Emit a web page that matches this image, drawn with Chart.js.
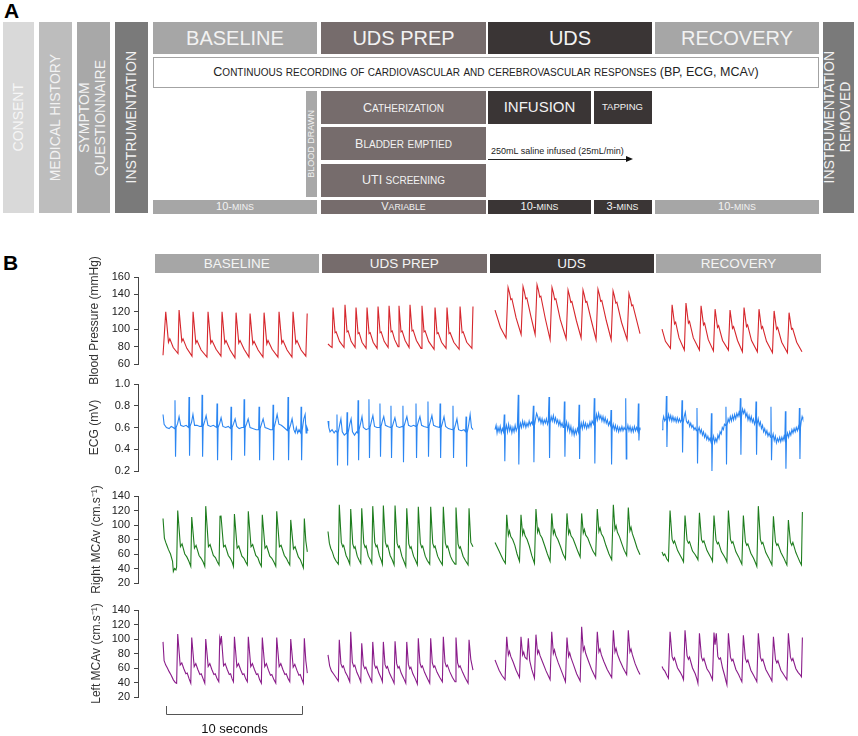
<!DOCTYPE html>
<html><head><meta charset="utf-8">
<script src="https://cdn.jsdelivr.net/npm/chart.js@4.4.1/dist/chart.umd.min.js"></script>
<style>
body{margin:0;background:#fff;}
#fig{position:relative;width:858px;height:736px;font-family:"Liberation Sans",Arial,Helvetica,sans-serif;overflow:hidden;background:#fff;}
.b{position:absolute;display:flex;align-items:center;justify-content:center;color:#f2f2f2;box-sizing:border-box;text-align:center;line-height:1.12;white-space:nowrap;}
.v{writing-mode:vertical-rl;transform:rotate(180deg);}
.s{font-size:0.8em;text-transform:uppercase;}
.lbl{position:absolute;font-weight:bold;font-size:21px;color:#000;}
canvas{position:absolute;left:60px;}
</style></head>
<body>
<div id="fig">
  <div class="lbl" style="left:4px;top:-1px;">A</div>
  <div class="b" style="left:3px;top:22px;width:31px;height:191px;background:#d9d9d9;font-size:14px;color:#f6f6f6;"><span class="v">CONSENT</span></div>
  <div class="b" style="left:39px;top:22px;width:33px;height:191px;background:#bdbdbd;font-size:14px;"><span class="v">MEDICAL HISTORY</span></div>
  <div class="b" style="left:76.5px;top:22px;width:33px;height:191px;background:#a8a8a8;font-size:14px;"><span class="v">SYMPTOM<br>QUESTIONNAIRE</span></div>
  <div class="b" style="left:115px;top:22px;width:33px;height:191px;background:#7a7a7a;font-size:14px;"><span class="v">INSTRUMENTATION</span></div>

  <div class="b" style="left:153px;top:22px;width:164px;height:32px;background:#a6a6a6;font-size:20px;">BASELINE</div>
  <div class="b" style="left:321px;top:22px;width:165px;height:32px;background:#766c6c;font-size:20px;">UDS PREP</div>
  <div class="b" style="left:488px;top:22px;width:164px;height:32px;background:#3a3535;font-size:20px;">UDS</div>
  <div class="b" style="left:655px;top:22px;width:164px;height:32px;background:#a6a6a6;font-size:20px;">RECOVERY</div>
  <div class="b" style="left:822.5px;top:22px;width:31px;height:191px;background:#7a7a7a;font-size:14px;"><span class="v">INSTRUMENTATION<br>REMOVED</span></div>

  <div class="b sc" style="left:153px;top:57px;width:666px;height:30.5px;background:#fff;border:1px solid #a3a3a3;font-size:12.5px;color:#222;">Continuous recording of cardiovascular and cerebrovascular responses (BP, ECG, MCAv)</div>

  <div class="b" style="left:306px;top:91px;width:11px;height:106px;background:#a8a8a8;font-size:9px;"><span class="v">BLOOD DRAWN</span></div>
  <div class="b sc" style="left:321px;top:91px;width:165px;height:33px;background:#766c6c;font-size:12.5px;">Catherization</div>
  <div class="b sc" style="left:321px;top:127px;width:165px;height:33px;background:#766c6c;font-size:12.5px;">Bladder emptied</div>
  <div class="b sc" style="left:321px;top:163.5px;width:165px;height:33px;background:#766c6c;font-size:12.5px;">UTI screening</div>
  <div class="b" style="left:488px;top:91px;width:103px;height:33px;background:#3a3535;font-size:15px;">INFUSION</div>
  <div class="b" style="left:593.5px;top:91px;width:58px;height:33px;background:#3a3535;font-size:9.5px;">TAPPING</div>

  <div style="position:absolute;left:491px;top:146px;font-size:9px;color:#222;white-space:nowrap;">250mL saline infused (25mL/min)</div>
  <div style="position:absolute;left:488px;top:159px;width:139px;height:1px;background:#222;"></div>
  <div style="position:absolute;left:626px;top:156px;width:0;height:0;border-left:7px solid #111;border-top:3.5px solid transparent;border-bottom:3.5px solid transparent;"></div>

  <div class="b sc" style="left:153px;top:200px;width:164px;height:13.5px;background:#a6a6a6;font-size:11px;">10-mins</div>
  <div class="b sc" style="left:321px;top:200px;width:165px;height:13.5px;background:#766c6c;font-size:11px;">Variable</div>
  <div class="b sc" style="left:488px;top:200px;width:103px;height:13.5px;background:#3a3535;font-size:11px;">10-mins</div>
  <div class="b sc" style="left:593.5px;top:200px;width:58px;height:13.5px;background:#3a3535;font-size:11px;">3-mins</div>
  <div class="b sc" style="left:655px;top:200px;width:164px;height:13.5px;background:#a6a6a6;font-size:11px;">10-mins</div>

  <div class="lbl" style="left:3px;top:251px;">B</div>
  <div id="hdrs"></div>

  <canvas id="c0" width="770" height="147" style="top:247px;"></canvas>
  <canvas id="c1" width="770" height="147" style="top:354px;"></canvas>
  <canvas id="c2" width="770" height="147" style="top:466px;"></canvas>
  <canvas id="c3" width="770" height="156" style="top:580px;"></canvas>
</div>
<script>
// ---- data (seconds within each 10.7 s window, values in units of each axis) ----
const phases = ['BASELINE', 'UDS PREP', 'UDS', 'RECOVERY'];
const segmentStarts = [1.84, 13.97, 26.25, 38.53];
const xMaxSeconds = 50.88;
const scaleBarSeconds = [2.06, 12.06];

const bpBaseline = [0,70, 0.2,120, 0.4,85, 0.5,89, 0.75,79, 1.1,72,
 1.18,122, 1.38,86, 1.47,89, 1.75,78, 2.13,69,
 2.21,120, 2.41,84, 2.5,87, 2.8,76, 3.23,68,
 3.31,120, 3.51,84, 3.6,87, 3.9,77, 4.26,69,
 4.34,120, 4.54,84, 4.63,87, 4.93,76, 5.29,67,
 5.37,119, 5.57,84, 5.66,87, 5.96,77, 6.32,68,
 6.40,118, 6.6,83, 6.69,86, 6.99,76, 7.35,68,
 7.43,119, 7.63,83, 7.72,87, 8.02,77, 8.45,68,
 8.53,120, 8.73,84, 8.82,87, 9.12,76, 9.48,68,
 9.56,120, 9.76,84, 9.85,87, 10.15,76, 10.5,69,
 10.6,118];
const bpPrep = [0,83, 0.2,80, 0.3,79,
 0.37,125, 0.52,96, 0.6,97, 0.85,86, 1.18,79,
 1.25,128, 1.4,97, 1.48,98, 1.7,86, 1.99,79,
 2.06,125, 2.21,95, 2.29,96, 2.5,85, 2.8,78,
 2.87,125, 3.02,95, 3.1,96, 3.32,85, 3.61,78,
 3.68,126, 3.83,96, 3.91,97, 4.13,86, 4.42,79,
 4.49,127, 4.64,97, 4.72,98, 4.9,88, 5.15,80,
 5.22,127, 5.37,97, 5.45,98, 5.67,87, 5.96,79,
 6.03,128, 6.18,98, 6.26,99, 6.5,87, 6.84,78,
 6.91,127, 7.06,97, 7.14,98, 7.4,86, 7.8,77,
 7.87,125, 8.02,95, 8.1,96, 8.35,85, 8.68,78,
 8.75,125, 8.9,95, 8.98,96, 9.25,85, 9.64,77,
 9.71,126, 9.86,96, 9.94,97, 10.2,85, 10.58,78,
 10.66,126];
const bpUds = [0,122, 0.4,102, 0.81,90,
 0.96,148, 1.06,142, 1.16,134, 1.24,135, 1.55,113, 1.92,94,
 2.06,149, 2.16,143, 2.26,135, 2.34,136, 2.65,114, 2.95,94,
 3.09,151, 3.19,145, 3.29,137, 3.37,138, 3.7,112, 4.05,88,
 4.19,148, 4.29,142, 4.39,134, 4.47,135, 4.8,111, 5.23,89,
 5.37,145, 5.47,139, 5.57,131, 5.65,132, 5.98,110, 6.33,90,
 6.47,145, 6.57,139, 6.67,131, 6.75,132, 7.08,110, 7.43,88,
 7.57,146, 7.67,140, 7.77,132, 7.85,133, 8.18,110, 8.54,88,
 8.68,144, 8.78,138, 8.88,130, 8.96,131, 9.3,108, 9.71,88,
 9.85,141, 9.95,135, 10.05,127, 10.13,128, 10.66,95];
const bpRecovery = [0,100, 0.25,86, 0.62,78,
 0.74,128, 0.92,106, 1.0,108, 1.25,90, 1.64,76,
 1.76,130, 1.94,107, 2.02,109, 2.3,90, 2.75,76,
 2.87,127, 3.05,105, 3.13,107, 3.4,88, 3.78,75,
 3.90,123, 4.08,102, 4.16,104, 4.45,87, 4.88,76,
 5.0,122, 5.18,101, 5.26,103, 5.55,87, 5.91,74,
 6.03,125, 6.21,103, 6.29,105, 6.58,87, 7.01,74,
 7.13,123, 7.31,101, 7.39,103, 7.68,86, 8.12,73,
 8.24,121, 8.42,100, 8.5,102, 8.8,85, 9.22,73,
 9.34,119, 9.52,100, 9.6,101, 9.9,85, 10.29,74];

const ecgBaseline = [0,0.72, 0.08,0.63, 0.25,0.60, 0.45,0.59, 0.6,0.61, 0.75,0.60, 0.85,0.59,
 0.88,0.85, 0.92,0.33, 0.96,0.6, 1.08,0.64, 1.18,0.70, 1.3,0.62, 1.5,0.61, 1.7,0.62, 1.88,0.60,
 1.91,0.88, 1.95,0.34, 1.99,0.61, 2.1,0.65, 2.2,0.72, 2.32,0.62, 2.5,0.62, 2.7,0.61, 2.84,0.61,
 2.87,0.90, 2.91,0.33, 2.95,0.61, 3.07,0.66, 3.17,0.71, 3.3,0.62, 3.5,0.61, 3.7,0.62, 3.94,0.60,
 3.97,0.82, 4.01,0.30, 4.05,0.60, 4.17,0.64, 4.27,0.69, 4.4,0.61, 4.6,0.60, 4.8,0.61, 4.97,0.59,
 5.0,0.79, 5.04,0.30, 5.08,0.60, 5.2,0.64, 5.3,0.68, 5.42,0.61, 5.6,0.59, 5.8,0.60, 5.93,0.60,
 5.96,0.86, 6.0,0.34, 6.04,0.60, 6.16,0.64, 6.26,0.68, 6.4,0.60, 6.6,0.59, 6.85,0.58, 7.03,0.58,
 7.06,0.79, 7.1,0.30, 7.14,0.59, 7.26,0.64, 7.36,0.68, 7.5,0.60, 7.7,0.59, 7.9,0.58, 8.06,0.58,
 8.09,0.81, 8.13,0.30, 8.17,0.60, 8.29,0.66, 8.39,0.72, 8.52,0.63, 8.7,0.62, 8.9,0.60, 9.16,0.57,
 9.19,0.88, 9.23,0.30, 9.27,0.58, 9.39,0.63, 9.49,0.68, 9.62,0.58, 9.72,0.55, 9.8,0.60, 9.9,0.55, 10.0,0.58, 10.12,0.55,
 10.15,0.79, 10.19,0.30, 10.23,0.57, 10.35,0.68, 10.45,0.72, 10.52,0.55, 10.58,0.60, 10.66,0.57];
const ecgPrep = [0,0.66, 0.06,0.60, 0.15,0.56, 0.3,0.58, 0.45,0.55, 0.55,0.57, 0.63,0.56,
 0.66,0.72, 0.70,0.25, 0.74,0.55, 0.85,0.62, 0.95,0.68, 1.05,0.56, 1.2,0.53, 1.37,0.55,
 1.40,0.74, 1.44,0.25, 1.48,0.55, 1.6,0.63, 1.7,0.68, 1.8,0.56, 1.95,0.53, 2.1,0.56, 2.18,0.55,
 2.21,0.85, 2.25,0.30, 2.29,0.58, 2.4,0.64, 2.5,0.70, 2.6,0.60, 2.8,0.58, 2.98,0.59,
 3.01,0.86, 3.05,0.32, 3.09,0.60, 3.2,0.66, 3.3,0.71, 3.42,0.61, 3.6,0.60, 3.79,0.60,
 3.82,0.82, 3.86,0.33, 3.9,0.61, 4.0,0.66, 4.1,0.70, 4.22,0.62, 4.4,0.61, 4.6,0.60,
 4.63,0.80, 4.67,0.32, 4.71,0.60, 4.82,0.65, 4.92,0.69, 5.05,0.61, 5.25,0.60, 5.48,0.61,
 5.51,0.80, 5.55,0.28, 5.59,0.61, 5.7,0.66, 5.8,0.70, 5.92,0.62, 6.1,0.61, 6.3,0.62, 6.44,0.61,
 6.47,0.82, 6.51,0.32, 6.55,0.61, 6.66,0.66, 6.76,0.70, 6.88,0.62, 7.05,0.61, 7.32,0.60,
 7.35,0.84, 7.39,0.33, 7.43,0.61, 7.54,0.66, 7.64,0.71, 7.76,0.62, 7.95,0.61, 8.21,0.60,
 8.24,0.82, 8.28,0.32, 8.32,0.60, 8.43,0.65, 8.53,0.70, 8.65,0.61, 8.85,0.59, 9.16,0.58,
 9.19,0.80, 9.23,0.32, 9.27,0.58, 9.38,0.63, 9.48,0.68, 9.6,0.58, 9.8,0.57, 10.0,0.58, 10.12,0.56,
 10.15,0.70, 10.19,0.24, 10.23,0.55, 10.35,0.63, 10.45,0.72, 10.55,0.60, 10.66,0.58];
const ecgUds = [0,0.58, 0.08,0.62, 0.15,0.55, 0.22,0.60, 0.3,0.56, 0.38,0.61, 0.46,0.55, 0.54,0.59, 0.62,0.56,
 0.68,0.72, 0.72,0.29, 0.76,0.57, 0.84,0.62, 0.92,0.56, 1.0,0.63, 1.08,0.57, 1.16,0.61, 1.24,0.55, 1.32,0.60, 1.4,0.56, 1.48,0.62, 1.56,0.57, 1.64,0.60,
 1.71,0.90, 1.75,0.26, 1.79,0.58, 1.87,0.64, 1.95,0.60, 2.03,0.66, 2.11,0.61, 2.19,0.65, 2.27,0.60, 2.35,0.64, 2.43,0.61, 2.51,0.66, 2.59,0.62, 2.67,0.65, 2.76,0.63,
 2.82,0.80, 2.86,0.28, 2.9,0.62, 2.98,0.68, 3.06,0.73, 3.14,0.70, 3.22,0.66, 3.3,0.69, 3.38,0.64, 3.46,0.68, 3.54,0.63, 3.62,0.67, 3.7,0.64, 3.78,0.68, 3.86,0.63, 3.92,0.66,
 3.97,0.88, 4.01,0.32, 4.05,0.64, 4.13,0.70, 4.21,0.66, 4.29,0.71, 4.37,0.65, 4.45,0.69, 4.53,0.64, 4.61,0.67, 4.69,0.62, 4.77,0.66, 4.85,0.61, 4.93,0.64, 5.01,0.60, 5.06,0.62,
 5.10,0.84, 5.14,0.33, 5.18,0.60, 5.26,0.65, 5.34,0.58, 5.42,0.63, 5.5,0.56, 5.58,0.61, 5.66,0.54, 5.74,0.59, 5.82,0.53, 5.9,0.58, 5.98,0.54, 6.06,0.59, 6.13,0.56,
 6.18,0.81, 6.22,0.31, 6.26,0.58, 6.34,0.64, 6.42,0.59, 6.5,0.65, 6.58,0.60, 6.66,0.64, 6.74,0.59, 6.82,0.63, 6.9,0.60, 6.98,0.65, 7.06,0.61, 7.14,0.66, 7.25,0.63,
 7.30,0.87, 7.34,0.27, 7.38,0.64, 7.46,0.72, 7.54,0.67, 7.62,0.73, 7.7,0.68, 7.78,0.71, 7.86,0.66, 7.94,0.70, 8.02,0.65, 8.1,0.69, 8.18,0.64, 8.26,0.67, 8.34,0.62, 8.42,0.65, 8.49,0.62,
 8.53,0.76, 8.57,0.26, 8.61,0.58, 8.69,0.63, 8.77,0.58, 8.85,0.62, 8.93,0.57, 9.01,0.61, 9.09,0.56, 9.17,0.60, 9.25,0.57, 9.33,0.61, 9.41,0.57, 9.49,0.60, 9.57,0.58,
 9.61,0.87, 9.65,0.31, 9.69,0.57, 9.77,0.62, 9.85,0.57, 9.93,0.61, 10.01,0.56, 10.09,0.60, 10.17,0.56, 10.25,0.61, 10.33,0.57, 10.41,0.60, 10.49,0.57,
 10.54,0.82, 10.58,0.48, 10.62,0.58, 10.66,0.60];
const ecgRecovery = [0,0.58, 0.06,0.66, 0.12,0.70, 0.2,0.66, 0.28,0.68,
 0.32,0.89, 0.36,0.42, 0.4,0.66, 0.48,0.72, 0.56,0.67, 0.64,0.71, 0.72,0.66, 0.8,0.70, 0.88,0.66, 0.96,0.69, 1.04,0.65, 1.12,0.69, 1.2,0.65, 1.28,0.68, 1.36,0.65, 1.43,0.67,
 1.47,0.85, 1.51,0.37, 1.55,0.64, 1.63,0.70, 1.71,0.74, 1.79,0.66, 1.87,0.64, 1.95,0.66, 2.03,0.61, 2.11,0.64, 2.19,0.60, 2.27,0.62, 2.35,0.58, 2.43,0.60, 2.52,0.57,
 2.57,0.78, 2.61,0.27, 2.65,0.57, 2.73,0.60, 2.81,0.55, 2.89,0.58, 2.97,0.53, 3.05,0.56, 3.13,0.51, 3.21,0.54, 3.29,0.49, 3.37,0.52, 3.45,0.48, 3.52,0.50, 3.59,0.47,
 3.63,0.73, 3.67,0.20, 3.71,0.47, 3.79,0.52, 3.87,0.46, 3.95,0.50, 4.03,0.47, 4.11,0.53, 4.19,0.50, 4.27,0.56, 4.35,0.54, 4.43,0.60, 4.51,0.58, 4.59,0.63, 4.66,0.62,
 4.70,0.79, 4.74,0.26, 4.78,0.62, 4.86,0.68, 4.94,0.65, 5.02,0.70, 5.1,0.66, 5.18,0.71, 5.26,0.67, 5.34,0.72, 5.42,0.68, 5.5,0.73, 5.58,0.70, 5.66,0.74, 5.72,0.71,
 5.76,0.87, 5.8,0.35, 5.84,0.70, 5.92,0.77, 6.0,0.73, 6.08,0.76, 6.16,0.70, 6.24,0.73, 6.32,0.67, 6.4,0.71, 6.48,0.66, 6.56,0.70, 6.64,0.65, 6.72,0.68, 6.8,0.63, 6.87,0.66,
 6.91,0.84, 6.95,0.35, 6.99,0.63, 7.07,0.68, 7.15,0.62, 7.23,0.65, 7.31,0.59, 7.39,0.62, 7.47,0.56, 7.55,0.59, 7.63,0.54, 7.71,0.57, 7.79,0.52, 7.87,0.55, 7.97,0.51,
 8.01,0.79, 8.05,0.30, 8.09,0.50, 8.17,0.54, 8.25,0.48, 8.33,0.52, 8.41,0.46, 8.49,0.50, 8.57,0.47, 8.65,0.51, 8.73,0.47, 8.81,0.51, 8.89,0.48, 8.97,0.52, 9.03,0.49,
 9.07,0.75, 9.11,0.22, 9.15,0.50, 9.23,0.55, 9.31,0.51, 9.39,0.56, 9.47,0.53, 9.55,0.58, 9.63,0.55, 9.71,0.59, 9.79,0.56, 9.87,0.60, 9.95,0.57, 10.03,0.61, 10.07,0.59,
 10.10,0.78, 10.14,0.31, 10.18,0.60, 10.24,0.66, 10.3,0.70, 10.35,0.68];

const rmcaBaseline = [0,109, 0.1,82, 0.2,76, 0.28,72, 0.4,66, 0.55,60, 0.7,50, 0.76,36, 0.85,40, 0.95,38, 1.0,42,
 1.08,120, 1.28,70, 1.4,74, 1.6,60, 1.75,56, 1.9,50, 2.04,43,
 2.11,111, 2.31,68, 2.43,72, 2.65,58, 2.8,54, 2.95,49, 3.07,43,
 3.14,126, 3.34,70, 3.46,73, 3.7,58, 3.85,55, 4.0,49, 4.12,45,
 4.19,112, 4.26,113, 4.45,70, 4.57,72, 4.8,58, 4.95,54, 5.08,49, 5.18,43,
 5.25,115, 5.45,68, 5.57,71, 5.8,57, 5.95,54, 6.08,49, 6.2,45,
 6.27,119, 6.47,70, 6.59,73, 6.82,58, 6.97,55, 7.1,48, 7.23,43,
 7.30,114, 7.5,68, 7.62,71, 7.85,57, 8.0,54, 8.15,49, 8.29,43,
 8.36,119, 8.56,70, 8.68,72, 8.92,58, 9.07,54, 9.2,49, 9.32,45,
 9.39,107, 9.59,67, 9.71,70, 9.95,56, 10.1,52, 10.22,46, 10.32,41,
 10.39,109, 10.5,78, 10.61,63];
const rmcaPrep = [0,91, 0.1,75, 0.2,68, 0.32,63, 0.45,55, 0.6,50, 0.76,46,
 0.83,128, 0.98,76, 1.08,70, 1.15,72, 1.33,58, 1.48,52, 1.6,46,
 1.67,122, 1.82,74, 1.92,68, 1.99,70, 2.15,57, 2.3,51, 2.41,47,
 2.48,123, 2.63,75, 2.73,69, 2.8,71, 2.96,57, 3.11,52, 3.22,47,
 3.29,126, 3.44,76, 3.54,70, 3.61,72, 3.77,58, 3.92,51, 4.0,46,
 4.07,127, 4.22,76, 4.32,70, 4.39,72, 4.57,58, 4.72,52, 4.86,45,
 4.93,127, 5.08,75, 5.18,69, 5.25,71, 5.43,57, 5.58,50, 5.72,43,
 5.79,123, 5.94,74, 6.04,68, 6.11,70, 6.29,57, 6.44,51, 6.57,45,
 6.64,125, 6.79,75, 6.89,69, 6.96,71, 7.15,57, 7.3,51, 7.48,46,
 7.55,125, 7.7,75, 7.8,69, 7.87,71, 8.06,57, 8.22,51, 8.41,45,
 8.48,125, 8.63,75, 8.73,69, 8.8,71, 9.0,57, 9.15,51, 9.34,46,
 9.41,124, 9.56,74, 9.66,68, 9.73,70, 9.93,57, 10.1,51, 10.3,45,
 10.37,123, 10.5,76, 10.66,70];
const rmcaUds = [0,76, 0.15,70, 0.3,64, 0.45,58, 0.6,52, 0.76,47,
 0.86,114, 0.98,86, 1.06,92, 1.16,84, 1.3,80, 1.46,72, 1.62,60, 1.8,50,
 1.91,114, 2.03,87, 2.11,93, 2.21,85, 2.36,80, 2.52,71, 2.7,58, 2.9,47,
 3.01,122, 3.13,90, 3.21,95, 3.31,87, 3.46,82, 3.64,72, 3.85,60, 4.05,50,
 4.17,116, 4.29,88, 4.37,93, 4.47,85, 4.62,80, 4.8,71, 5.0,60, 5.18,53,
 5.29,116, 5.41,88, 5.49,93, 5.59,85, 5.74,81, 5.92,72, 6.1,63, 6.26,56,
 6.37,116, 6.49,89, 6.57,94, 6.67,86, 6.82,82, 7.0,73, 7.2,64, 7.4,58,
 7.52,122, 7.64,91, 7.72,96, 7.82,88, 7.97,83, 8.15,72, 8.38,60, 8.58,52,
 8.70,128, 8.82,94, 8.9,99, 9.0,90, 9.15,84, 9.33,74, 9.5,65, 9.68,58,
 9.80,124, 9.92,92, 10.0,97, 10.1,88, 10.25,80, 10.45,68, 10.66,59];
const rmcaRecovery = [0,63, 0.1,58, 0.2,60, 0.35,53, 0.47,50,
 0.59,120, 0.74,80, 0.84,75, 0.92,78, 1.14,65, 1.34,58, 1.48,53, 1.58,49,
 1.69,113, 1.84,79, 1.94,75, 2.02,77, 2.24,64, 2.44,59, 2.56,55, 2.64,52,
 2.75,117, 2.9,80, 3.0,76, 3.08,78, 3.3,65, 3.5,58, 3.62,54, 3.71,50,
 3.82,113, 3.97,79, 4.07,74, 4.15,76, 4.37,63, 4.57,57, 4.68,53, 4.77,49,
 4.88,120, 5.03,80, 5.13,75, 5.21,77, 5.43,63, 5.63,56, 5.77,50, 5.87,46,
 5.98,113, 6.13,77, 6.23,72, 6.31,74, 6.53,61, 6.73,54, 6.87,48, 6.97,43,
 7.08,126, 7.23,80, 7.33,74, 7.41,76, 7.63,62, 7.83,55, 7.98,49, 8.08,45,
 8.19,112, 8.34,77, 8.44,72, 8.52,74, 8.74,62, 8.94,55, 9.08,49, 9.18,45,
 9.29,107, 9.44,76, 9.54,72, 9.62,76, 9.84,62, 10.0,55, 10.14,49, 10.25,45,
 10.32,118];

const lmcaBaseline = [0,96, 0.08,70, 0.2,64, 0.32,60, 0.45,55, 0.6,50, 0.75,44, 0.9,40, 1.0,39,
 1.08,107, 1.26,64, 1.38,67, 1.53,59, 1.68,52, 1.78,53, 1.92,45, 2.04,39,
 2.11,102, 2.29,62, 2.41,66, 2.56,58, 2.71,51, 2.81,52, 2.95,45, 3.07,39,
 3.14,100, 3.32,62, 3.44,66, 3.59,58, 3.74,51, 3.84,52, 3.98,45, 4.1,41,
 4.17,101, 4.23,95, 4.29,104, 4.45,63, 4.57,66, 4.72,58, 4.87,51, 4.97,52, 5.08,45, 5.18,41,
 5.25,103, 5.43,62, 5.55,66, 5.7,58, 5.85,51, 5.95,52, 6.08,45, 6.2,41,
 6.27,103, 6.45,62, 6.57,66, 6.72,58, 6.87,51, 6.97,52, 7.1,44, 7.23,39,
 7.30,102, 7.48,62, 7.6,66, 7.75,57, 7.9,50, 8.0,51, 8.15,44, 8.29,39,
 8.36,102, 8.54,62, 8.66,66, 8.81,58, 8.96,51, 9.06,52, 9.2,45, 9.32,41,
 9.39,100, 9.57,61, 9.69,65, 9.84,57, 9.99,50, 10.09,51, 10.22,44, 10.32,39,
 10.39,101, 10.5,70, 10.61,53];
const lmcaPrep = [0,78, 0.12,63, 0.25,56, 0.4,52, 0.55,48, 0.76,42,
 0.83,99, 0.95,66, 1.05,61, 1.13,63, 1.28,54, 1.43,49, 1.6,41,
 1.67,110, 1.79,68, 1.89,62, 1.97,64, 2.12,54, 2.27,48, 2.41,41,
 2.48,94, 2.6,64, 2.7,59, 2.78,61, 2.93,53, 3.08,47, 3.22,41,
 3.29,96, 3.41,65, 3.51,60, 3.59,62, 3.74,53, 3.89,47, 4.0,41,
 4.07,96, 4.19,65, 4.29,60, 4.37,62, 4.52,53, 4.7,46, 4.86,39,
 4.93,97, 5.05,66, 5.15,60, 5.23,62, 5.38,53, 5.56,46, 5.72,39,
 5.79,96, 5.91,65, 6.01,59, 6.09,61, 6.24,52, 6.42,45, 6.57,38,
 6.64,101, 6.76,67, 6.86,61, 6.94,63, 7.1,54, 7.3,46, 7.48,39,
 7.55,101, 7.67,67, 7.77,61, 7.85,63, 8.02,54, 8.22,47, 8.41,41,
 8.48,103, 8.6,68, 8.7,62, 8.78,64, 8.95,55, 9.15,47, 9.34,41,
 9.41,102, 9.53,67, 9.63,61, 9.71,63, 9.9,54, 10.1,46, 10.3,39,
 10.37,99, 10.5,72, 10.66,57];
const lmcaUds = [0,71, 0.15,64, 0.3,57, 0.5,50, 0.74,44,
 0.86,103, 0.98,78, 1.06,83, 1.16,76, 1.34,68, 1.55,57, 1.8,47,
 1.91,103, 2.03,78, 2.11,82, 2.2,75, 2.35,72, 2.45,101, 2.55,70, 2.7,58, 2.9,46,
 3.01,106, 3.13,80, 3.21,84, 3.31,77, 3.5,68, 3.75,56, 4.05,44,
 4.17,110, 4.29,80, 4.37,85, 4.47,77, 4.65,67, 4.9,55, 5.18,41,
 5.29,102, 5.41,76, 5.49,81, 5.59,74, 5.78,64, 6.0,52, 6.26,42,
 6.37,117, 6.49,84, 6.57,89, 6.67,80, 6.86,70, 7.1,58, 7.4,46,
 7.52,110, 7.64,82, 7.72,86, 7.82,78, 8.0,69, 8.25,58, 8.58,47,
 8.70,112, 8.82,82, 8.9,87, 9.0,79, 9.18,70, 9.42,60, 9.68,51,
 9.80,112, 9.92,82, 10.0,86, 10.1,78, 10.3,66, 10.5,57, 10.66,51];
const lmcaRecovery = [0,62, 0.1,58, 0.2,56, 0.35,50, 0.47,46,
 0.59,110, 0.74,76, 0.84,71, 0.92,74, 1.14,60, 1.34,54, 1.48,49, 1.58,44,
 1.69,112, 1.84,77, 1.94,72, 2.02,75, 2.24,60, 2.44,52, 2.56,45, 2.64,39,
 2.75,108, 2.9,75, 3.0,70, 3.08,73, 3.3,59, 3.5,53, 3.62,48, 3.71,44,
 3.82,109, 3.9,92, 3.99,108, 4.1,76, 4.2,72, 4.3,74, 4.45,60, 4.6,50, 4.7,42, 4.77,37,
 4.88,108, 5.03,75, 5.13,70, 5.21,72, 5.43,58, 5.63,51, 5.77,45, 5.87,41,
 5.98,105, 6.13,73, 6.23,68, 6.31,71, 6.53,57, 6.73,50, 6.87,45, 6.97,41,
 7.08,108, 7.23,75, 7.33,70, 7.41,72, 7.63,58, 7.83,51, 7.98,46, 8.08,42,
 8.19,103, 8.34,72, 8.44,67, 8.52,70, 8.74,57, 8.94,51, 9.08,47, 9.18,44,
 9.29,108, 9.44,75, 9.54,70, 9.62,73, 9.84,59, 10.0,54, 10.14,51, 10.25,48,
 10.32,102];

const bpTicks = [60, 160, 20];
const ecgTicks = [0.2, 1.0, 0.2];
const mcaTicks = [20, 140, 20];

// ---- rendering ----
const FONT = '"Liberation Sans", Arial, Helvetica, sans-serif';
Chart.defaults.font.family = FONT;

// small capitals: lowercase runs shown as reduced capitals, wrapped in one inline box
document.querySelectorAll('.sc').forEach(el => {
  el.innerHTML = '<span>' + el.textContent.replace(/([a-z]+)/g, '<span class="s">$1</span>') + '</span>';
});

const hdrColors = ['#a6a6a6', '#766c6c', '#3a3535', '#a6a6a6'];
const hdrBoxes = [[155, 163.5], [322, 164.5], [489.5, 164], [656, 165]];
const hdrs = document.getElementById('hdrs');
phases.forEach((p, i) => {
  const d = document.createElement('div');
  d.className = 'b';
  d.style.cssText = `left:${hdrBoxes[i][0]}px;top:254px;width:${hdrBoxes[i][1]}px;height:18.5px;background:${hdrColors[i]};font-size:13.5px;color:#f4f4f4;`;
  d.textContent = p;
  hdrs.appendChild(d);
});

function toPoints(arr, seg) {
  const pts = [];
  for (let k = 0; k < arr.length; k += 2) pts.push({x: segmentStarts[seg] + arr[k], y: arr[k + 1]});
  return pts;
}

const scaleBarPlugin = {
  id: 'scaleBar',
  afterDraw(chart) {
    if (!chart.options.plugins.scaleBar || !chart.options.plugins.scaleBar.show) return;
    const {ctx, chartArea, scales: {x}} = chart;
    const x0 = Math.round(x.getPixelForValue(scaleBarSeconds[0])) + 0.5;
    const x1 = Math.round(x.getPixelForValue(scaleBarSeconds[1])) + 0.5;
    const y0 = chartArea.bottom + 9, y1 = Math.round(chartArea.bottom + 17) + 0.5;
    ctx.save();
    ctx.strokeStyle = '#555'; ctx.lineWidth = 1;
    ctx.beginPath();
    ctx.moveTo(x0, y0); ctx.lineTo(x0, y1); ctx.lineTo(x1, y1); ctx.lineTo(x1, y0);
    ctx.stroke();
    ctx.fillStyle = '#111';
    ctx.font = '13px ' + FONT;
    ctx.textAlign = 'center'; ctx.textBaseline = 'middle';
    ctx.fillText('10 seconds', (x0 + x1) / 2, chartArea.bottom + 32);
    ctx.restore();
  }
};

function makeChart(id, segs, color, ticks, title, titlePad, bottomPad, decimals, showBar) {
  const datasets = segs.map((arr, i) => ({
    label: phases[i],
    data: toPoints(arr, i),
    borderColor: color, borderWidth: 1.1, pointRadius: 0, tension: 0, fill: false
  }));
  new Chart(document.getElementById(id), {
    type: 'line',
    data: {datasets},
    options: {
      responsive: false, animation: false, events: [],
      layout: {padding: {top: 30, bottom: bottomPad, left: 0, right: 0}},
      plugins: {legend: {display: false}, tooltip: {enabled: false}, scaleBar: {show: showBar}},
      scales: {
        x: {type: 'linear', min: 0, max: xMaxSeconds, display: false},
        y: {
          min: ticks[0], max: ticks[1],
          afterFit: s => { s.width = 78; },
          ticks: {stepSize: ticks[2], autoSkip: false, color: '#222', padding: 4, font: {size: 11},
                  callback: v => Number(v).toFixed(decimals)},
          grid: {drawOnChartArea: false, drawTicks: true, tickLength: 4, color: '#444'},
          border: {display: true, color: '#444', width: 1},
          title: {display: true, text: title, color: '#333', font: {size: 12}, padding: {top: titlePad, bottom: 0}}
        }
      }
    },
    plugins: [scaleBarPlugin]
  });
}

makeChart('c0', [bpBaseline, bpPrep, bpUds, bpRecovery], '#d6262c', bpTicks, 'Blood Pressure (mmHg)', 27, 30, 0, false);
makeChart('c1', [ecgBaseline, ecgPrep, ecgUds, ecgRecovery], '#2b86f2', ecgTicks, 'ECG (mV)', 27, 30, 1, false);
makeChart('c2', [rmcaBaseline, rmcaPrep, rmcaUds, rmcaRecovery], '#1e7d1e', mcaTicks, 'Right MCAv (cm.s\u207B\u00B9)', 29, 30, 0, false);
makeChart('c3', [lmcaBaseline, lmcaPrep, lmcaUds, lmcaRecovery], '#8a1c8a', mcaTicks, 'Left MCAv (cm.s\u207B\u00B9)', 29, 39, 0, true);
</script>
</body></html>
